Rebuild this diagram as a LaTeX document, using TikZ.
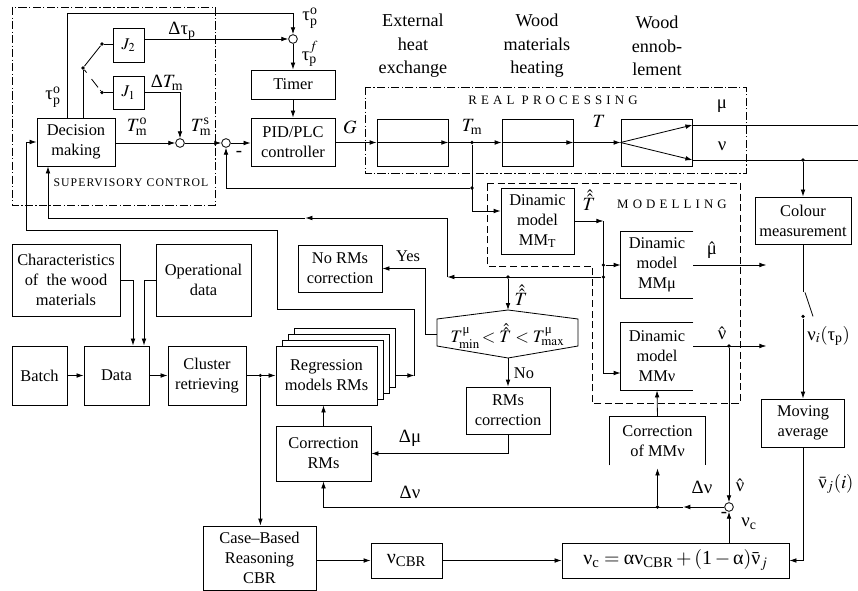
\documentclass[tikz,border=0pt]{standalone}
\usepackage{amsmath,amssymb}
\usepackage{mathptmx}
\usepackage{fontspec}
\setmainfont{Liberation Serif}
\usepackage{tikz}
\usetikzlibrary{arrows.meta}
\newcommand{\gk}[1]{\text{#1}}

\begin{document}
\begin{tikzpicture}[x=0.03cm,y=-0.03cm,line width=0.7pt,
  font=\fontsize{14}{17}\selectfont,
  blk/.style={draw,align=center,inner sep=1pt},
  opn/.style={align=center,inner sep=1pt},
  sum/.style={draw,circle,inner sep=0pt,minimum size=0.26cm},
  dot/.style={fill,circle,inner sep=0pt,minimum size=0.11cm},
  arr/.style={-{Latex[length=2.1mm,width=1.4mm]}},
  lbl/.style={font=\fontsize{16}{18}\selectfont,inner sep=0pt},
  head/.style={align=center,font=\fontsize{15.5}{20}\selectfont},
  spaced/.style={font=\fontsize{11}{12}\selectfont\addfontfeature{LetterSpace=32}},
  dashdot/.style={dash pattern=on 7pt off 2pt on 1pt off 2pt}]
\useasboundingbox (0,0) rectangle (858,591);

% supervisory control
\draw[dashdot] (12,7) rectangle (215,205);
\node[font=\fontsize{10}{12}\selectfont\addfontfeature{LetterSpace=9}] (sup) at (131,183) {SUPERVISORY CONTROL};
\node[blk,minimum width=2.34cm,minimum height=1.44cm] (dec) at (76,142) {Decision\\making};
\node[blk,minimum width=0.93cm,minimum height=1.02cm] (j2) at (128.5,45) {$J_2$};
\node[blk,minimum width=0.93cm,minimum height=0.99cm] (j1) at (128.5,92.5) {$J_1$};
\node[sum] (s0) at (293,39) {};
\node[sum] (s1) at (180,143) {};
\node[sum] (s2) at (226,143) {};
\node[blk,minimum width=2.52cm,minimum height=0.87cm] (timer) at (293,84.5) {Timer};
\node[blk,minimum width=2.52cm,minimum height=1.44cm] (pid) at (293,142) {PID/PLC\\controller};
\node[dot] (piv) at (83,68) {};
\node[dot] (w2) at (102,44) {};
\node[dot] (w1) at (102,92.5) {};
\draw (dec.north -| piv) -- (piv);
\draw (piv) -- (w2);
\draw[dash pattern=on 3pt off 7pt on 9pt] (piv) -- (w1);
\draw (w2) -- (w2 -| j2.west);
\draw (w1) -- (j1.west);
\draw[arr] ([xshift=-0.27cm]dec.north) -- ++(0,-104) -| (s0.north);
\draw[arr] (j2.east |- s0) -- (s0.west);
\draw[arr] (s0.south) -- (timer.north);
\draw[arr] (timer) -- (pid);
\draw[arr] (j1.east) -| (s1.north);
\draw[arr] (dec.east |- s1) -- (s1.west);
\draw[arr] (s1.east) -- (s2.west);
\draw[arr] (s2.east) -- (pid.west |- s2);
\node[lbl] (ltpo) at (53,97) {$\gk{τ}^\gk{o}_\gk{p}$};
\node[lbl] (ldtp) at (182,31) {$\gk{Δτ}_\gk{p}$};
\node[lbl] (ldtm) at (167,83) {$\gk{Δ}T_\gk{m}$};
\node[lbl] (ltmo) at (137,127) {$T^\gk{o}_\gk{m}$};
\node[lbl] (ltms) at (201,127) {$T^\gk{s}_\gk{m}$};
\node[lbl] (lmin1) at (239,154) {-};
\node[lbl] (ltpo2) at (310,18) {$\gk{τ}^\gk{o}_\gk{p}$};
\node[lbl] (ltpf) at (310,54) {$\gk{τ}^f_\gk{p}$};

% real processing
\draw[dashdot] (365,87) rectangle (746,173);
\node[spaced] (rp) at (553,100) {REAL PROCESSING};
\node[head] (h1) at (413,46) {External\\heat\\exchange};
\node[head] (h2) at (537,46) {Wood\\materials\\heating};
\node[head] (h3) at (657,46) {Wood\\ennob-\\lement};
\node[blk,minimum width=2.13cm,minimum height=1.41cm] (b1) at (412.5,142.5) {};
\node[blk,minimum width=2.13cm,minimum height=1.41cm] (b2) at (537.5,142.5) {};
\node[blk,minimum width=2.13cm,minimum height=1.41cm] (b3) at (656.5,142.5) {};
\draw[arr] (pid.east |- b1) -- (b1.west);
\draw[arr] (b1.west) -- (b1.east);
\draw[arr] (b1.east) -- (b2.west);
\draw[arr] (b2.west) -- (b2.east);
\draw[arr] (b2.east) -- (b3.west);
\coordinate (mu0) at ([yshift=0.525cm]b3.east);
\coordinate (nu0) at ([yshift=-0.525cm]b3.east);
\draw[arr] (b3.west) -- (mu0);
\draw[arr] (b3.west) -- (nu0);
\draw (mu0) -- ++(166,0);
\draw (nu0) -- ++(166,0);
\node[lbl] (lg) at (350,127) {$G$};
\node[lbl] (ltm) at (472,127) {$T_\gk{m}$};
\node[lbl] (lt) at (599,121) {$T$};
\node[lbl] (lmu) at (722,106) {$\gk{μ}$};
\node[lbl] (lnu) at (722,146) {$\gk{ν}$};

% modelling
\draw[dashed,dash pattern=on 6pt off 3pt] (487,183) -- (740,183) -- (740,403) -- (592,403) -- (592,266) -- (487,266) -- cycle;
\node[spaced] (mo) at (672,204) {MODELLING};
\node[blk,minimum width=2.19cm,minimum height=1.98cm] (mmt) at (537.5,221) {Dinamic\\model\\MM$_{\gk{T}}$};
\node[opn,minimum width=2.16cm,minimum height=1.98cm] (mmmu) at (657,265) {Dinamic\\model\\MMμ};
\node[opn,minimum width=2.16cm,minimum height=2.01cm] (mmnu) at (657,356.5) {Dinamic\\model\\MMν};
\draw (mmmu.north east) -- (mmmu.north west) -- (mmmu.south west) -- (mmmu.south east);
\draw (mmnu.north east) -- (mmnu.north west) -- (mmnu.south west) -- (mmnu.south east);
\node[dot] (tm) at (472,142.5) {};
\draw[arr] (tm) |- ([yshift=0.3cm]mmt.west);
\node[dot] (fb) at (472,188) {};
\draw[arr] (fb) -| (s2.south);
\path (mmt.east) ++(29,0) coordinate (th);
\draw[arr] (mmt.east) -- (th);
\draw[arr] (th) |- ([yshift=-0.495cm]mmnu.west);
\node[dot] (mt) at (th |- mmmu) {};
\draw[arr] (mt) -- (mmmu.west);
\path (th) ++(0,56) node[dot] (tt) {};
\draw[arr] (mmmu.east) -- ++(73,0);
\coordinate (nh) at ([yshift=0.315cm]mmnu.east);
\draw[arr] (nh) -- ++(73,0);
\node[lbl] (lth) at (589,200) {$\hat{\hat{T}}$};
\node[lbl] (lmuh) at (712,250) {$\hat{\gk{μ}}$};
\node[lbl] (lnuh) at (722,333) {$\hat{\gk{ν}}$};

% decision on the temperature
\node[lbl,font=\fontsize{15}{17}\selectfont] (cond) at (507.5,336) {$T^{\gk{μ}}_{\min}\! < \hat{\hat{T}} < T^{\gk{μ}}_{\max}$};
\coordinate (dtop) at (508,310);
\coordinate (dleft) at (437,334);
\coordinate (dbot) at (508,358);
\draw (437,319) -- (dtop) -- (578,319) -- (578,346) -- (dbot) -- (437,346) -- cycle;
\node[dot] (ct) at (tt -| dtop) {};
\draw[arr] (ct) -- (dtop);
\draw[arr] (tt) -- ++(-156,0) coordinate (k1);
\draw (k1) -- ++(0,-59) coordinate (k2);
\draw[arr] (k2) -- ++(-142,0) coordinate (k3);
\draw[arr] (k3) -| ([xshift=-0.84cm]dec.south);
\node[blk,minimum width=2.52cm,minimum height=1.41cm] (nocorr) at (340,268.5) {No RMs\\correction};
\node[blk,minimum width=2.52cm,minimum height=1.41cm] (rmcorr) at (508,410.5) {RMs\\correction};
\draw[arr] (dleft) -- ++(-12,0) |- (nocorr.east);
\draw[arr] (dbot) -- (rmcorr.north);
\node[lbl] (lthh) at (521,295) {$\hat{\hat{T}}$};
\node (lyes) at (408,256) {Yes};
\node (lno) at (524,373) {No};

% regression models
\foreach \s/\n in {18/reg3,12/reg2,6/reg1}
  \node[blk,fill=white,minimum width=3.03cm,minimum height=1.77cm] (\n) at (326.5+\s,375.5-\s) {};
\node[blk,fill=white,minimum width=3.03cm,minimum height=1.77cm] (reg) at (326.5,375.5) {Regression\\models RMs};
\node[blk,minimum width=2.85cm,minimum height=1.65cm] (crm) at (323.5,453.5) {Correction\\RMs};
\draw[arr] (rmcorr.south) |- (crm.east);
\draw[arr] (crm.north) -- (crm.north |- reg.south);
\path (reg3.east |- reg) ++(19,0) coordinate (r1);
\draw[arr] (reg3.east |- reg) -- (r1);
\draw[arr] (r1) |- ++(-137,-66) |- ++(-251,-79) |- (dec.west);
\node[lbl] (ldmu) at (410,438) {$\gk{Δμ}$};

% data
\node[blk,minimum width=3.24cm,minimum height=2.16cm] (chr) at (66,280) {Characteristics\\of\ \ the wood\\materials};
\node[blk,minimum width=2.85cm,minimum height=2.16cm] (opd) at (203.5,280) {Operational\\data};
\node[blk,minimum width=1.65cm,minimum height=1.77cm] (batch) at (39.5,375.5) {Batch};
\node[blk,minimum width=1.95cm,minimum height=1.77cm] (data) at (116.5,375.5) {Data};
\node[blk,minimum width=2.34cm,minimum height=1.77cm] (clus) at (207,375.5) {Cluster\\retrieving};
\draw[arr] (chr.east) -| ([xshift=0.495cm]data.north);
\draw[arr] (opd.west) -| ([xshift=0.825cm]data.north);
\draw[arr] (batch) -- (data);
\draw[arr] (data) -- (clus);
\draw[arr] (clus) -- (reg);
\path (clus.east) ++(14,0) node[dot] (ctap) {};

% case based reasoning
\node[blk,minimum width=3.39cm,minimum height=1.92cm] (cbr) at (259.5,558) {Case--Based\\Reasoning\\CBR};
\node[blk,minimum width=2.13cm,minimum height=1.05cm,font=\fontsize{17}{18}\selectfont] (ncbr) at (406.5,560.5) {$\gk{ν}_\gk{CBR}$};
\node[blk,minimum width=6.81cm,minimum height=1.05cm,font=\fontsize{17}{18}\selectfont] (form) at (675.5,560.5) {$\gk{ν}_\gk{c} = \gk{αν}_\gk{CBR} + (\gk{1}-\gk{α})\bar{\gk{ν}}_j$};
\draw[arr] (ctap) -- (ctap |- cbr.north);
\draw[arr] (cbr.east |- ncbr) -- (ncbr.west);
\draw[arr] (ncbr) -- (form);

% colour measurement
\node[blk,minimum width=2.88cm,minimum height=1.41cm] (colm) at (803,220.5) {Colour\\measurement};
\node[blk,minimum width=2.49cm,minimum height=1.44cm] (mavg) at (803,423) {Moving\\average};
\node[dot] (nt) at (nu0 -| colm) {};
\draw[arr] (nt) -- (colm);
\path (colm.south) ++(0,48) coordinate (sw);
\draw (colm.south) -- (sw);
\path (sw) ++(0,24) node[dot] (swd) {};
\draw ([xshift=0.06cm]sw) -- ++(8,24);
\draw[arr] (swd) -- (mavg);
\draw[arr] (mavg.south) |- (form.east);
\node[lbl,anchor=west] (lnui) at (807,336) {$\gk{ν}_i(\gk{τ}_\gk{p})$};
\node[lbl,anchor=west] (lnuj) at (818,484) {$\bar{\gk{ν}}_j(i)$};

% colour error
\node[sum] (sn) at (729,507) {};
\node[dot] (nht) at (nh -| sn) {};
\draw[arr] (nht) -- (sn.north);
\draw[arr] (form.north -| sn) -- (sn.south);
\draw[arr] (sn.west) -- ++(-41,0) coordinate (dn);
\draw[arr] (dn) -| (crm.south);
\node[opn,minimum width=2.85cm,minimum height=1.44cm] (corrmm) at (657.5,441) {Correction\\of MMν};
\draw (corrmm.south west) -- (corrmm.north west) -- (corrmm.north east) -- (corrmm.south east);
\node[dot] (dnt) at (dn -| corrmm) {};
\draw[arr] (dnt) -- ([yshift=-0.09cm]corrmm.south);
\draw[arr] (corrmm.north) -- (mmnu.south);
\node[lbl] (ldnu) at (410,492) {$\gk{Δν}$};
\node[lbl] (ldnu2) at (702,487) {$\gk{Δν}$};
\node[lbl] (lnuh2) at (740,485) {$\hat{\gk{ν}}$};
\node[lbl] (lnuc) at (749,524) {$\gk{ν}_\gk{c}$};
\node[lbl] (lmin2) at (724,515) {-};
\end{tikzpicture}
\end{document}
